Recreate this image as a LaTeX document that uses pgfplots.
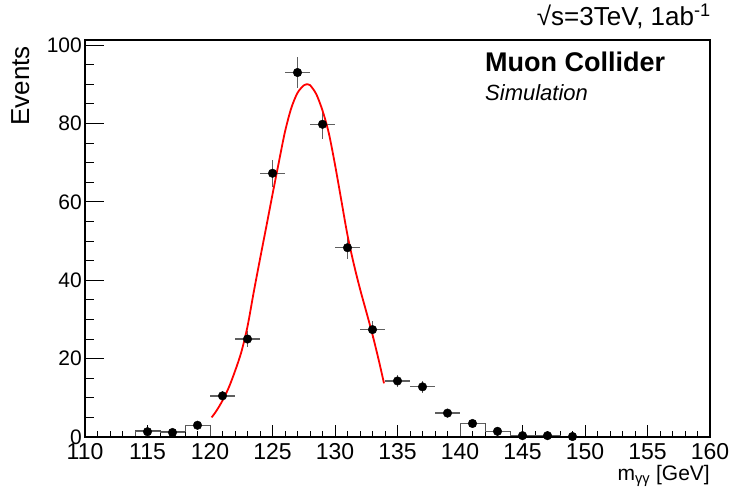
\documentclass[border=0pt]{standalone}
\usepackage{fontspec}
\setmainfont{Liberation Sans}
\usepackage{pgfplots}
\usepackage{pgfplotstable}
\pgfplotsset{compat=1.18}
\definecolor{errgray}{RGB}{95,95,95}
\definecolor{histgray}{RGB}{80,80,80}
\pgfplotstableread{
x   y     ex  ey
115 1.35  1   0.50
117 1.15  1   0.45
119 3.0   1   0.73
121 10.5  1   1.36
123 25.0  1   2.10
125 67.3  1   3.45
127 93.0  1   4.05
129 79.8  1   3.75
131 48.3  1   2.90
133 27.4  1   2.20
135 14.3  1   1.60
137 12.8  1   1.50
139 6.1   1   1.05
141 3.45  1   0.78
143 1.45  1   0.50
145 0.35  1   0.25
147 0.35  1   0.25
149 0.12  1   0.15
}\datatable
\pgfplotstableread{
x      y
120.13 5.0
120.5  6.6
121.0  9.3
121.5  12.6
122.0  16.8
122.5  21.6
123.0  28.2
123.5  37.0
124.0  45.4
124.5  53.6
125.0  61.9
125.5  70.0
126.0  77.9
126.5  83.9
127.0  87.8
127.5  89.7
127.8  90.0
128.0  89.8
128.5  87.5
129.0  83.3
129.5  77.6
130.0  69.5
130.5  60.5
131.0  51.5
131.5  44.2
132.0  37.8
132.5  32.0
133.0  26.1
133.5  19.6
133.92 13.7
}\fittable
\begin{document}
\begin{tikzpicture}
\useasboundingbox (0pt,0pt) rectangle (732pt,491pt);
% main axis: x ticks, data
\begin{axis}[
  at={(85pt,54pt)}, anchor=south west,
  width=625pt, height=397pt, scale only axis,
  xmin=110, xmax=160, ymin=0, ymax=101.3,
  xtick={110,115,...,160}, minor x tick num=4,
  ytick=\empty,
  tick align=inside, xtick pos=left,
  major tick length=12pt, minor tick length=6pt,
  axis line style={line width=1.2pt},
  every tick/.style={black, line width=0.9pt},
  /pgf/number format/assume math mode=true,
  xticklabel style={font=\fontsize{23}{26}\selectfont, inner sep=0pt, yshift=-6pt},
]
\addplot[histgray, line width=1pt] coordinates {(114,0) (114,1.7) (116,1.7) (116,1.4) (118,1.4) (118,3.0) (120,3.0) (120,0)};
\addplot[histgray, line width=1pt] coordinates {(140,0) (140,3.4) (142,3.4) (142,1.4) (144,1.4) (144,0.35) (146,0.35) (146,0.3) (148,0.3) (148,0.15) (150,0.15) (150,0)};
\addplot[only marks, mark=*, mark size=4.3pt, black,
  error bars/.cd, x dir=both, x explicit, y dir=both, y explicit,
  error mark=none, error bar style={errgray, line width=1.3pt}]
  table[x=x, y=y, x error=ex, y error=ey] {\datatable};
\addplot[red, line width=1.8pt, smooth] table[x=x, y=y] {\fittable};
\end{axis}
% overlay axis: y ticks
\begin{axis}[
  at={(85pt,54pt)}, anchor=south west,
  width=625pt, height=397pt, scale only axis,
  xmin=110, xmax=160, ymin=0, ymax=101.3,
  xtick=\empty,
  ytick={0,20,...,100}, minor y tick num=3,
  tick align=inside, ytick pos=left,
  major tick length=19pt, minor tick length=9pt,
  axis line style={line width=1.2pt},
  every tick/.style={black, line width=0.9pt},
  /pgf/number format/assume math mode=true,
  yticklabel style={font=\fontsize{21}{24}\selectfont, inner sep=0pt, xshift=-3pt},
]
\end{axis}
\node[rotate=90, anchor=north east, inner sep=0pt, font=\fontsize{26}{30}\selectfont] at (11pt,445pt) {Events};
\node[anchor=north east, inner sep=0pt, font=\fontsize{21}{24}\selectfont] at (710pt,26pt) {m\textsubscript{γγ} [GeV]};
\node[anchor=base east, inner sep=0pt, font=\fontsize{26}{30}\selectfont] at (711pt,465pt) {√s=3TeV, 1ab\textsuperscript{-1}};
\node[anchor=base west, inner sep=0pt, font=\fontsize{27}{32}\selectfont\bfseries] at (485pt,419pt) {Muon Collider};
\node[anchor=base west, inner sep=0pt, font=\fontsize{22}{26}\selectfont\itshape] at (485pt,390pt) {Simulation};
\end{tikzpicture}
\end{document}
